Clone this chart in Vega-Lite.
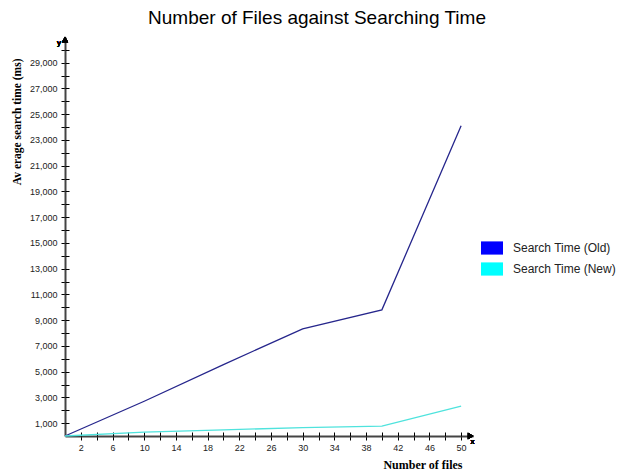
{
  "$schema": "https://vega.github.io/schema/vega-lite/v6.json",
  "autosize": {"type": "none"},
  "width": 408,
  "height": 399,
  "padding": {"left": 65, "top": 37, "right": 167, "bottom": 35},
  "background": "white",
  "config": {
    "view": {"stroke": null},
    "font": "Liberation Sans"
  },
  "title": {
    "text": "Number of Files against Searching Time",
    "font": "Liberation Sans",
    "fontSize": 19,
    "fontWeight": "normal",
    "color": "#000000",
    "anchor": "middle",
    "frame": "group",
    "dx": 48,
    "offset": 9
  },
  "data": {
    "values": [
      {"files": 0, "time": 0, "series": "Search Time (Old)"},
      {"files": 10, "time": 2700, "series": "Search Time (Old)"},
      {"files": 20, "time": 5550, "series": "Search Time (Old)"},
      {"files": 30, "time": 8330, "series": "Search Time (Old)"},
      {"files": 40, "time": 9800, "series": "Search Time (Old)"},
      {"files": 50, "time": 24100, "series": "Search Time (Old)"},
      {"files": 0, "time": 0, "series": "Search Time (New)"},
      {"files": 10, "time": 300, "series": "Search Time (New)"},
      {"files": 20, "time": 480, "series": "Search Time (New)"},
      {"files": 30, "time": 650, "series": "Search Time (New)"},
      {"files": 40, "time": 760, "series": "Search Time (New)"},
      {"files": 50, "time": 2320, "series": "Search Time (New)"}
    ]
  },
  "layer": [
    {
      "mark": {"type": "line", "strokeWidth": 1.3, "clip": false},
      "encoding": {
        "x": {
          "field": "files", "type": "quantitative",
          "scale": {"domain": [0, 51.5], "nice": false, "zero": false},
          "axis": {
            "orient": "bottom",
            "values": [2,4,6,8,10,12,14,16,18,20,22,24,26,28,30,32,34,36,38,40,42,44,46,48,50],
            "labelExpr": "datum.value % 4 == 2 ? format(datum.value, 'd') : ''",
            "labelFont": "Liberation Sans", "labelFontSize": 9, "labelColor": "#222222",
            "labelPadding": 3,
            "tickSize": 4, "tickColor": "#000000", "tickWidth": 1,
            "domainColor": "#444444", "domainWidth": 2,
            "grid": false,
            "title": "Number of files",
            "titleFont": "Liberation Serif", "titleFontSize": 12, "titleFontWeight": "bold",
            "titleColor": "#000000",
            "titleX": 397, "titleY": 32, "titleAlign": "right", "titleBaseline": "alphabetic"
          }
        },
        "y": {
          "field": "time", "type": "quantitative",
          "scale": {"domain": [0, 31000], "nice": false, "zero": false},
          "axis": {
            "orient": "left",
            "values": [1000,2000,3000,4000,5000,6000,7000,8000,9000,10000,11000,12000,13000,14000,15000,16000,17000,18000,19000,20000,21000,22000,23000,24000,25000,26000,27000,28000,29000,30000],
            "labelExpr": "datum.value % 2000 == 1000 ? format(datum.value, ',') : ''",
            "labelFont": "Liberation Sans", "labelFontSize": 9, "labelColor": "#222222",
            "labelPadding": 4,
            "tickSize": 4, "tickColor": "#000000", "tickWidth": 1,
            "domainColor": "#444444", "domainWidth": 2,
            "grid": false,
            "title": "Av erage search  time (ms)",
            "titleFont": "Liberation Serif", "titleFontSize": 11.5, "titleFontWeight": "bold",
            "titleColor": "#000000",
            "titleAngle": -90,
            "titleX": -48, "titleY": 21, "titleAlign": "right", "titleBaseline": "middle"
          }
        },
        "color": {
          "field": "series", "type": "nominal",
          "scale": {"domain": ["Search Time (Old)", "Search Time (New)"], "range": ["#26268c", "#4fe3dd"]},
          "legend": {
            "orient": "none",
            "legendX": 416,
            "legendY": 200,
            "title": null,
            "padding": 0,
            "symbolType": "M-1,-0.6H1V0.6H-1Z",
            "symbolSize": 484,
            "symbolStrokeWidth": 0,
            "rowPadding": 3,
            "labelFont": "Liberation Sans",
            "labelFontSize": 12,
            "labelColor": "#222222",
            "labelOffset": 10,
            "encode": {
              "symbols": {
                "update": {
                  "fill": {"signal": "datum.value === 'Search Time (Old)' ? '#0000ff' : '#00ffff'"},
                  "stroke": {"signal": "datum.value === 'Search Time (Old)' ? '#0000ff' : '#00ffff'"},
                  "fillOpacity": {"value": 1}
                }
              }
            }
          }
        }
      }
    },
    {
      "mark": {"type": "point", "shape": "triangle-up", "filled": true, "color": "#000000", "opacity": 1, "size": 40, "clip": false},
      "encoding": {
        "x": {"datum": 0, "type": "quantitative",
          "axis": {
            "orient": "bottom", "offset": -4,
            "values": [2,4,6,8,10,12,14,16,18,20,22,24,26,28,30,32,34,36,38,40,42,44,46,48,50],
            "labels": false, "domain": false, "grid": false, "title": null,
            "tickSize": 4, "tickColor": "#000000", "tickWidth": 1
          }
        },
        "y": {"datum": 30800, "type": "quantitative",
          "axis": {
            "orient": "left", "offset": -4,
            "values": [1000,2000,3000,4000,5000,6000,7000,8000,9000,10000,11000,12000,13000,14000,15000,16000,17000,18000,19000,20000,21000,22000,23000,24000,25000,26000,27000,28000,29000,30000],
            "labels": false, "domain": false, "grid": false, "title": null,
            "tickSize": 4, "tickColor": "#000000", "tickWidth": 1
          }
        }
      }
    },
    {
      "mark": {"type": "point", "shape": "triangle-right", "filled": true, "color": "#000000", "opacity": 1, "size": 40, "clip": false},
      "encoding": {
        "x": {"datum": 51.2, "type": "quantitative", "axis": null},
        "y": {"datum": 0, "type": "quantitative", "axis": null}
      }
    },
    {
      "mark": {"type": "text", "text": "y", "fontSize": 8, "font": "Liberation Sans", "color": "#000000", "dx": -6, "dy": 0, "clip": false},
      "encoding": {
        "x": {"datum": 0, "type": "quantitative", "axis": null},
        "y": {"datum": 30500, "type": "quantitative", "axis": null}
      }
    },
    {
      "mark": {"type": "text", "text": "x", "fontSize": 8, "font": "Liberation Sans", "color": "#000000", "dx": 1, "dy": 6, "clip": false},
      "encoding": {
        "x": {"datum": 51.3, "type": "quantitative", "axis": null},
        "y": {"datum": 0, "type": "quantitative", "axis": null}
      }
    }
  ],
  "resolve": {"axis": {"x": "independent", "y": "independent"}}
}
